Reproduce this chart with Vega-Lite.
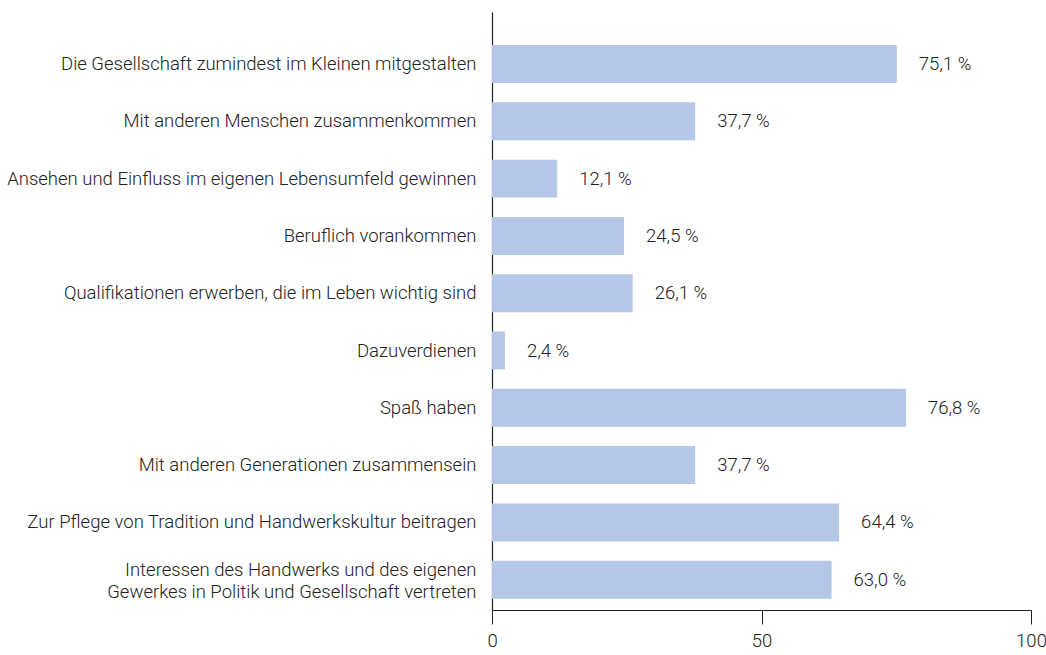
{
  "$schema": "https://vega.github.io/schema/vega-lite/v6.json",
  "width": 539,
  "height": 598,
  "autosize": {"type": "none"},
  "padding": {"left": 492, "top": 12, "right": 15, "bottom": 45},
  "background": "white",
  "config": {
    "view": {"stroke": null},
    "font": "Roboto",
    "axis": {"labelFont": "Roboto", "labelFontWeight": 300, "labelColor": "#222222", "labelFontSize": 18.5, "grid": false, "domainColor": "#222222", "tickColor": "#222222", "domainWidth": 1.2}
  },
  "data": {
    "values": [
      {"item": "Die Gesellschaft zumindest im Kleinen mitgestalten", "value": 75.1, "label": "75,1 %"},
      {"item": "Mit anderen Menschen zusammenkommen", "value": 37.7, "label": "37,7 %"},
      {"item": "Ansehen und Einfluss im eigenen Lebensumfeld gewinnen", "value": 12.1, "label": "12,1 %"},
      {"item": "Beruflich vorankommen", "value": 24.5, "label": "24,5 %"},
      {"item": "Qualifikationen erwerben, die im Leben wichtig sind", "value": 26.1, "label": "26,1 %"},
      {"item": "Dazuverdienen", "value": 2.4, "label": "2,4 %"},
      {"item": "Spaß haben", "value": 76.8, "label": "76,8 %"},
      {"item": "Mit anderen Generationen zusammensein", "value": 37.7, "label": "37,7 %"},
      {"item": "Zur Pflege von Tradition und Handwerkskultur beitragen", "value": 64.4, "label": "64,4 %"},
      {"item": "Interessen des Handwerks und des eigenen|Gewerkes in Politik und Gesellschaft vertreten", "value": 63.0, "label": "63,0 %"}
    ]
  },
  "encoding": {
    "y": {
      "field": "item", "type": "nominal", "sort": null, "title": null,
      "scale": {"paddingInner": 0.337, "paddingOuter": 0.387, "align": 0.745},
      "axis": {
        "ticks": false, "labelPadding": 16, "labelLimit": 600,
        "labelExpr": "split(datum.label, '|')", "labelLineHeight": 22,
        "labelOffset": {"condition": {"test": "indexof(datum.label, '|') >= 0", "value": -10}, "value": 0}
      }
    }
  },
  "layer": [
    {
      "mark": {"type": "bar", "color": "#b4c7e7"},
      "encoding": {
        "x": {
          "field": "value", "type": "quantitative", "title": null,
          "scale": {"domain": [0, 100], "nice": false},
          "axis": {"values": [0, 50, 100], "tickSize": 14, "labelPadding": 7, "labelFlush": false}
        }
      }
    },
    {
      "mark": {"type": "text", "align": "left", "baseline": "middle", "dx": 22, "fontSize": 18.5, "fontWeight": 300, "color": "#222222", "font": "Roboto"},
      "encoding": {
        "x": {"field": "value", "type": "quantitative"},
        "text": {"field": "label"}
      }
    }
  ]
}
